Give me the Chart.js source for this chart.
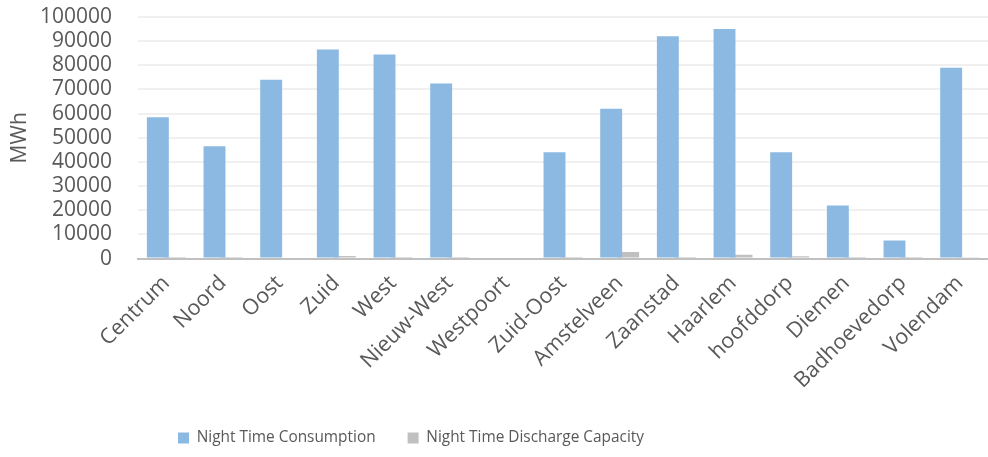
<!DOCTYPE html>
<html>
<head>
<meta charset="utf-8">
<script src="https://cdn.jsdelivr.net/npm/chart.js@4/dist/chart.umd.min.js"></script>
<style>
  html, body { margin: 0; padding: 0; background: #ffffff; }
  #wrap { width: 988px; height: 457px; position: relative; }
</style>
</head>
<body>
<div id="wrap"><canvas id="c" width="988" height="457"></canvas></div>
<script>
// Districts and nearby municipalities
const categories = ['Centrum', 'Noord', 'Oost', 'Zuid', 'West', 'Nieuw-West', 'Westpoort', 'Zuid-Oost',
  'Amstelveen', 'Zaanstad', 'Haarlem', 'hoofddorp', 'Diemen', 'Badhoevedorp', 'Volendam'];

// Night time consumption, MWh
const nightConsumption = [58500, 46500, 74000, 86500, 84500, 72500, 0, 44000,
  62000, 92000, 95000, 44000, 22000, 7500, 79000];

// Night time discharge capacity, MWh
const nightDischarge = [700, 300, 500, 1100, 700, 300, 0, 200,
  2700, 300, 1600, 1000, 200, 200, 600];

// Value axis
const yMin = 0;
const yMax = 100000;
const yStep = 10000;
const yTitle = 'MWh';

const textColor = '#595959';
const fontFamily = "'Open Sans', 'Noto Sans', sans-serif";

// Places the legend row under the axis labels, left-aligned
const legendPlacement = {
  id: 'legendPlacement',
  beforeDraw(chart) {
    const lg = chart.legend;
    if (!lg) return;
    const pad = lg.options.labels.padding;
    const fs = lg.options.labels.font.size;
    const w = lg.right - lg.left;
    lg.left = 178 - pad;
    lg.right = lg.left + w;
    lg.top = 438 - pad - fs / 2;
  }
};

new Chart(document.getElementById('c'), {
  type: 'bar',
  data: {
    labels: categories,
    datasets: [
      {
        label: 'Night Time Consumption',
        data: nightConsumption,
        backgroundColor: '#8CB9E2',
        borderWidth: 0,
        categoryPercentage: 0.6,
        barPercentage: 1.29
      },
      {
        label: 'Night Time Discharge Capacity',
        data: nightDischarge,
        backgroundColor: '#C0C0C0',
        borderWidth: 0,
        categoryPercentage: 0.6,
        barPercentage: 1.29
      }
    ]
  },
  options: {
    responsive: false,
    animation: false,
    devicePixelRatio: 1,
    layout: { autoPadding: false, padding: { top: 17, right: 0, bottom: 1, left: 0 } },
    plugins: {
      legend: {
        position: 'bottom',
        align: 'start',
        labels: {
          boxWidth: 11,
          boxHeight: 11,
          padding: 32,
          color: textColor,
          font: { family: fontFamily, size: 15.4 }
        }
      },
      tooltip: { enabled: false }
    },
    scales: {
      x: {
        grid: { display: false, drawTicks: false },
        border: { display: true, color: '#C0C0C0', width: 2 },
        ticks: {
          autoSkip: false,
          minRotation: 45,
          maxRotation: 45,
          padding: 12,
          color: textColor,
          font: { family: fontFamily, size: 21.5 }
        },
        afterFit(scale) {
          scale.height = 140;
          scale.paddingLeft = 0;
          scale.paddingRight = 0;
        }
      },
      y: {
        min: yMin,
        max: yMax,
        grid: { color: '#F0F0F0', lineWidth: 2, drawTicks: false },
        border: { display: false },
        ticks: {
          autoSkip: false,
          stepSize: yStep,
          padding: 26,
          color: textColor,
          font: { family: fontFamily, size: 21, lineHeight: 1 },
          callback: (v) => String(v)
        },
        title: {
          display: true,
          text: yTitle,
          color: textColor,
          font: { family: fontFamily, size: 21 },
          padding: { top: 7, bottom: 0 }
        },
        afterFit(scale) {
          scale.width = 138;
          scale.paddingTop = 0;
          scale.paddingBottom = 0;
        }
      }
    }
  },
  plugins: [legendPlacement]
});
</script>
</body>
</html>
